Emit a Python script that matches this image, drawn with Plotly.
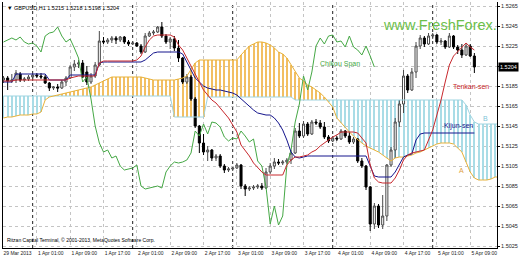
import plotly.graph_objects as go

# ---------------- data ----------------
symbol_title = "\u25bc GBPUSD,H1 1.5215 1.5218 1.5198 1.5204"
copyright_text = "Ritzan Capital Terminal, \u00a9 2001-2013, MetaQuotes Software Corp."
watermark = "www.FreshForex."

# hourly bars, index 0 = 29 Mar 2013 17:00
time_labels = ["29 Mar 2013", "1 Apr 01:00", "1 Apr 09:00", "1 Apr 17:00", "2 Apr 01:00",
               "2 Apr 09:00", "2 Apr 17:00", "3 Apr 01:00", "3 Apr 09:00", "3 Apr 17:00",
               "4 Apr 01:00", "4 Apr 09:00", "4 Apr 17:00", "5 Apr 01:00", "5 Apr 09:00"]
label_bars = [0, 8, 16, 24, 32, 40, 48, 56, 64, 72, 80, 88, 96, 104, 112]
day_separator_bars = [7, 31, 55, 79, 103]

price_ticks = [1.5025, 1.5045, 1.5065, 1.5085, 1.5105, 1.5125, 1.5145,
               1.5165, 1.5185, 1.5205, 1.5225, 1.5245, 1.5265]
last_price = 1.5204

open_ = [1.5191, 1.5193, 1.5190, 1.5191, 1.5197, 1.5191, 1.5192, 1.5194, 1.5196, 1.5195,
         1.5194, 1.5188, 1.5183, 1.5184, 1.5183, 1.5189, 1.5193, 1.5204, 1.5207, 1.5208,
         1.5199, 1.5189, 1.5195, 1.5206, 1.5230, 1.5229, 1.5231, 1.5233, 1.5231, 1.5234,
         1.5229, 1.5227, 1.5228, 1.5225, 1.5219, 1.5235, 1.5238, 1.5239, 1.5244, 1.5235,
         1.5229, 1.5232, 1.5223, 1.5213, 1.5189, 1.5194, 1.5172, 1.5145, 1.5128, 1.5119,
         1.5121, 1.5113, 1.5115, 1.5105, 1.5101, 1.5102, 1.5103, 1.5106, 1.5085, 1.5082,
         1.5083, 1.5084, 1.5085, 1.5083, 1.5099, 1.5105, 1.5109, 1.5108, 1.5109, 1.5111,
         1.5118, 1.5140, 1.5135, 1.5147, 1.5137, 1.5149, 1.5148, 1.5144, 1.5134, 1.5130,
         1.5133, 1.5132, 1.5140, 1.5135, 1.5129, 1.5132, 1.5110, 1.5105, 1.5084, 1.5047,
         1.5065, 1.5046, 1.5055, 1.5106, 1.5121, 1.5149, 1.5167, 1.5195, 1.5181, 1.5199,
         1.5225, 1.5233, 1.5227, 1.5235, 1.5236, 1.5229, 1.5230, 1.5224, 1.5235, 1.5224,
         1.5221, 1.5216, 1.5225, 1.5215]
high = [1.5195, 1.5195, 1.5197, 1.5201, 1.5199, 1.5194, 1.5196, 1.5197, 1.5198, 1.5198,
        1.5196, 1.5189, 1.5185, 1.5187, 1.5191, 1.5195, 1.5206, 1.5211, 1.5211, 1.5211,
        1.5205, 1.5198, 1.5209, 1.5240, 1.5234, 1.5233, 1.5235, 1.5235, 1.5235, 1.5235,
        1.5231, 1.5230, 1.5229, 1.5227, 1.5238, 1.5240, 1.5241, 1.5245, 1.5249, 1.5237,
        1.5234, 1.5235, 1.5231, 1.5214, 1.5197, 1.5196, 1.5174, 1.5146, 1.5137, 1.5125,
        1.5122, 1.5117, 1.5117, 1.5107, 1.5104, 1.5104, 1.5108, 1.5107, 1.5087, 1.5085,
        1.5086, 1.5087, 1.5088, 1.5103, 1.5108, 1.5113, 1.5112, 1.5111, 1.5113, 1.5121,
        1.5143, 1.5148, 1.5150, 1.5149, 1.5151, 1.5152, 1.5151, 1.5149, 1.5136, 1.5135,
        1.5135, 1.5142, 1.5141, 1.5139, 1.5134, 1.5133, 1.5113, 1.5106, 1.5085, 1.5068,
        1.5067, 1.5076, 1.5107, 1.5124, 1.5153, 1.5171, 1.5201, 1.5197, 1.5203, 1.5229,
        1.5236, 1.5235, 1.5238, 1.5238, 1.5237, 1.5233, 1.5231, 1.5238, 1.5236, 1.5226,
        1.5227, 1.5228, 1.5227, 1.5218]
low = [1.5188, 1.5181, 1.5188, 1.5188, 1.5189, 1.5189, 1.5190, 1.5190, 1.5193, 1.5192,
       1.5187, 1.5180, 1.5181, 1.5179, 1.5182, 1.5185, 1.5192, 1.5200, 1.5203, 1.5193,
       1.5186, 1.5187, 1.5193, 1.5205, 1.5227, 1.5227, 1.5228, 1.5227, 1.5229, 1.5227,
       1.5225, 1.5226, 1.5224, 1.5217, 1.5218, 1.5234, 1.5236, 1.5238, 1.5233, 1.5227,
       1.5222, 1.5220, 1.5209, 1.5187, 1.5187, 1.5170, 1.5143, 1.5118, 1.5116, 1.5110,
       1.5110, 1.5110, 1.5103, 1.5098, 1.5099, 1.5100, 1.5102, 1.5082, 1.5075, 1.5080,
       1.5081, 1.5082, 1.5081, 1.5082, 1.5097, 1.5102, 1.5106, 1.5106, 1.5107, 1.5107,
       1.5117, 1.5133, 1.5133, 1.5135, 1.5136, 1.5146, 1.5142, 1.5132, 1.5128, 1.5129,
       1.5130, 1.5131, 1.5133, 1.5127, 1.5127, 1.5108, 1.5103, 1.5081, 1.5040, 1.5042,
       1.5043, 1.5042, 1.5050, 1.5104, 1.5113, 1.5144, 1.5158, 1.5178, 1.5180, 1.5193,
       1.5222, 1.5224, 1.5226, 1.5232, 1.5227, 1.5226, 1.5222, 1.5223, 1.5222, 1.5217,
       1.5213, 1.5215, 1.5214, 1.5198]
close = [1.5193, 1.5190, 1.5191, 1.5198, 1.5191, 1.5192, 1.5194, 1.5196, 1.5195, 1.5194,
         1.5188, 1.5183, 1.5184, 1.5183, 1.5189, 1.5193, 1.5204, 1.5207, 1.5208, 1.5194,
         1.5189, 1.5195, 1.5206, 1.5230, 1.5229, 1.5231, 1.5233, 1.5231, 1.5234, 1.5229,
         1.5227, 1.5228, 1.5225, 1.5219, 1.5235, 1.5238, 1.5239, 1.5244, 1.5235, 1.5229,
         1.5232, 1.5223, 1.5213, 1.5189, 1.5194, 1.5172, 1.5145, 1.5128, 1.5119, 1.5121,
         1.5113, 1.5115, 1.5105, 1.5101, 1.5102, 1.5103, 1.5106, 1.5085, 1.5082, 1.5083,
         1.5084, 1.5085, 1.5083, 1.5099, 1.5105, 1.5109, 1.5108, 1.5109, 1.5111, 1.5118,
         1.5140, 1.5135, 1.5147, 1.5137, 1.5149, 1.5148, 1.5144, 1.5134, 1.5130, 1.5133,
         1.5132, 1.5140, 1.5135, 1.5129, 1.5132, 1.5110, 1.5105, 1.5084, 1.5047, 1.5065,
         1.5046, 1.5055, 1.5106, 1.5121, 1.5149, 1.5167, 1.5195, 1.5181, 1.5199, 1.5225,
         1.5233, 1.5227, 1.5235, 1.5236, 1.5229, 1.5230, 1.5224, 1.5235, 1.5224, 1.5221,
         1.5216, 1.5225, 1.5215, 1.5204]

tenkan_sen = [1.5190, 1.5190, 1.5190, 1.5191, 1.5191, 1.5191, 1.5191, 1.5191, 1.5191, 1.5191,
              1.5191, 1.5191, 1.5191, 1.5191, 1.5191, 1.5191, 1.5193, 1.5194, 1.5195, 1.5195,
              1.5195, 1.5195, 1.5195, 1.5208, 1.5210, 1.5210, 1.5210, 1.5210, 1.5210, 1.5210,
              1.5210, 1.5210, 1.5211, 1.5215, 1.5224, 1.5231, 1.5235, 1.5236, 1.5236, 1.5236,
              1.5236, 1.5234, 1.5226, 1.5221, 1.5213, 1.5205, 1.5196, 1.5188, 1.5181, 1.5176,
              1.5171, 1.5168, 1.5163, 1.5158, 1.5153, 1.5146, 1.5139, 1.5126, 1.5121, 1.5115,
              1.5108, 1.5103, 1.5099, 1.5096, 1.5096, 1.5096, 1.5096, 1.5096, 1.5106, 1.5111,
              1.5114, 1.5114, 1.5115, 1.5116, 1.5119, 1.5121, 1.5125, 1.5128, 1.5131, 1.5134,
              1.5136, 1.5139, 1.5139, 1.5139, 1.5139, 1.5138, 1.5133, 1.5128, 1.5106, 1.5093,
              1.5089, 1.5088, 1.5088, 1.5088, 1.5093, 1.5101, 1.5111, 1.5116, 1.5118, 1.5119,
              1.5120, 1.5121, 1.5131, 1.5141, 1.5156, 1.5171, 1.5189, 1.5206, 1.5215, 1.5219,
              1.5224, 1.5228, 1.5224, 1.5221]
kijun_sen = [1.5189, 1.5189, 1.5189, 1.5197, 1.5197, 1.5197, 1.5197, 1.5197, 1.5197, 1.5197,
             1.5197, 1.5191, 1.5191, 1.5191, 1.5191, 1.5191, 1.5196, 1.5196, 1.5196, 1.5196,
             1.5196, 1.5196, 1.5196, 1.5208, 1.5209, 1.5209, 1.5209, 1.5209, 1.5209, 1.5209,
             1.5209, 1.5209, 1.5209, 1.5209, 1.5211, 1.5215, 1.5218, 1.5219, 1.5219, 1.5219,
             1.5219, 1.5219, 1.5219, 1.5217, 1.5209, 1.5201, 1.5193, 1.5189, 1.5185, 1.5183,
             1.5182, 1.5181, 1.5181, 1.5180, 1.5179, 1.5178, 1.5176, 1.5172, 1.5169, 1.5165,
             1.5161, 1.5158, 1.5157, 1.5156, 1.5156, 1.5153, 1.5148, 1.5141, 1.5131, 1.5119,
             1.5114, 1.5113, 1.5114, 1.5115, 1.5115, 1.5115, 1.5115, 1.5115, 1.5115, 1.5115,
             1.5115, 1.5115, 1.5115, 1.5115, 1.5115, 1.5115, 1.5115, 1.5115, 1.5105, 1.5095,
             1.5094, 1.5094, 1.5094, 1.5094, 1.5099, 1.5106, 1.5114, 1.5116, 1.5117, 1.5131,
             1.5137, 1.5138, 1.5138, 1.5138, 1.5138, 1.5138, 1.5138, 1.5138, 1.5138, 1.5138,
             1.5138, 1.5138, 1.5138, 1.5138]
# cloud spans run 6 bars past the last candle (to the chart's right edge)
senkou_span_a = [1.5153, 1.5154, 1.5154, 1.5155, 1.5156, 1.5156, 1.5156, 1.5157, 1.5157, 1.5159,
                 1.5171, 1.5174, 1.5175, 1.5176, 1.5177, 1.5178, 1.5179, 1.5180, 1.5181, 1.5182,
                 1.5183, 1.5184, 1.5186, 1.5188, 1.5190, 1.5192, 1.5194, 1.5194, 1.5194, 1.5194,
                 1.5194, 1.5194, 1.5194, 1.5194, 1.5193, 1.5192, 1.5191, 1.5191, 1.5191, 1.5191,
                 1.5191, 1.5191, 1.5192, 1.5193, 1.5195, 1.5201, 1.5208, 1.5211, 1.5211, 1.5211,
                 1.5211, 1.5211, 1.5211, 1.5211, 1.5211, 1.5211, 1.5211, 1.5216, 1.5221, 1.5225,
                 1.5227, 1.5229, 1.5229, 1.5228, 1.5226, 1.5223, 1.5219, 1.5217, 1.5213, 1.5206,
                 1.5199, 1.5193, 1.5190, 1.5186, 1.5184, 1.5181, 1.5178, 1.5174, 1.5169, 1.5164,
                 1.5153, 1.5148, 1.5143, 1.5139, 1.5135, 1.5131, 1.5128, 1.5125, 1.5123, 1.5121,
                 1.5119, 1.5116, 1.5113, 1.5110, 1.5113, 1.5114, 1.5114, 1.5115, 1.5116, 1.5118,
                 1.5119, 1.5121, 1.5123, 1.5125, 1.5127, 1.5128, 1.5128, 1.5128, 1.5127, 1.5123,
                 1.5119, 1.5109, 1.5099, 1.5093, 1.5091, 1.5091, 1.5091, 1.5092, 1.5094, 1.5094]
senkou_span_b = [1.5175] * 41 + [1.5154] * 8 + [1.5174] * 21 + [1.5171] * 41 + \
                [1.5166, 1.5156, 1.5149, 1.5147, 1.5147, 1.5147, 1.5147, 1.5147, 1.5147]
# chikou span: closes plotted back on the chart
chikou_span = [1.5229, 1.5231, 1.5233, 1.5231, 1.5234, 1.5229, 1.5227, 1.5228, 1.5225, 1.5219,
               1.5235, 1.5238, 1.5239, 1.5244, 1.5235, 1.5229, 1.5232, 1.5223, 1.5213, 1.5189,
               1.5194, 1.5172, 1.5145, 1.5128, 1.5119, 1.5121, 1.5113, 1.5115, 1.5105, 1.5101,
               1.5102, 1.5103, 1.5106, 1.5085, 1.5082, 1.5083, 1.5084, 1.5085, 1.5083, 1.5099,
               1.5105, 1.5109, 1.5108, 1.5109, 1.5111, 1.5118, 1.5140, 1.5135, 1.5147, 1.5137,
               1.5149, 1.5148, 1.5144, 1.5134, 1.5130, 1.5133, 1.5132, 1.5140, 1.5135, 1.5129,
               1.5132, 1.5110, 1.5105, 1.5084, 1.5047, 1.5065, 1.5046, 1.5055, 1.5106, 1.5121,
               1.5149, 1.5167, 1.5195, 1.5181, 1.5199, 1.5225, 1.5233, 1.5227, 1.5235, 1.5236,
               1.5229, 1.5230, 1.5224, 1.5235, 1.5224, 1.5221, 1.5216, 1.5225, 1.5215, 1.5204]

# ---------------- styling ----------------
C_TENKAN = "#c8282d"
C_KIJUN = "#14148c"
C_CHIKOU = "#45a845"
C_A_LINE = "#e8b23a"
C_A_HATCH = "#f2bf62"
C_B_LINE = "#9fd4e0"
C_B_HATCH = "#a9dce6"
C_GRID = "#c4c4c4"
AXIS_FONT = "Liberation Sans"

bars = list(range(len(close)))
cloud_bars = list(range(len(senkou_span_a)))
chikou_bars = list(range(len(chikou_span)))

cloud_base = [min(a, b) for a, b in zip(senkou_span_a, senkou_span_b)]
cloud_height = [abs(a - b) for a, b in zip(senkou_span_a, senkou_span_b)]
cloud_color = [C_A_HATCH if a > b else C_B_HATCH for a, b in zip(senkou_span_a, senkou_span_b)]

fig = go.Figure()

fig.add_trace(go.Bar(x=cloud_bars, y=cloud_height, base=cloud_base, width=0.25,
                     marker=dict(color=cloud_color, line=dict(width=0)), hoverinfo="skip"))

fig.add_trace(go.Candlestick(
    x=bars, open=open_, high=high, low=low, close=close,
    increasing=dict(line=dict(color="#4a4a4a", width=1), fillcolor="white"),
    decreasing=dict(line=dict(color="black", width=1), fillcolor="black"),
    whiskerwidth=0))

fig.add_trace(go.Scatter(x=cloud_bars, y=senkou_span_b, mode="lines",
                         line=dict(color=C_B_LINE, width=1)))
fig.add_trace(go.Scatter(x=cloud_bars, y=senkou_span_a, mode="lines",
                         line=dict(color=C_A_LINE, width=1)))
fig.add_trace(go.Scatter(x=chikou_bars, y=chikou_span, mode="lines",
                         line=dict(color=C_CHIKOU, width=1)))
fig.add_trace(go.Scatter(x=bars, y=kijun_sen, mode="lines",
                         line=dict(color=C_KIJUN, width=1)))
fig.add_trace(go.Scatter(x=bars, y=tenkan_sen, mode="lines",
                         line=dict(color=C_TENKAN, width=1)))

for s in day_separator_bars:
    fig.add_shape(type="line", xref="x", yref="paper", x0=s, x1=s, y0=0, y1=1,
                  line=dict(color="#202020", width=1, dash="dot"), layer="below")

fig.update_layout(
    width=520, height=260, margin=dict(l=3, r=23, t=2, b=12),
    paper_bgcolor="white", plot_bgcolor="white", showlegend=False,
    barmode="overlay", bargap=0,
)
fig.update_xaxes(
    range=[-0.12, 118.43], tickmode="array", tickvals=label_bars, ticktext=time_labels,
    tickangle=0, tickfont=dict(family=AXIS_FONT, size=5, color="#222"), ticklabelshift=14,
    ticks="", showgrid=True, gridcolor=C_GRID, griddash="dot", gridwidth=1,
    showline=True, linecolor="black", linewidth=1, zeroline=False,
    rangeslider=dict(visible=False), fixedrange=True,
)
fig.update_yaxes(
    range=[1.5023, 1.5269], side="right", tickmode="array", tickvals=price_ticks,
    ticktext=["%.4f" % p for p in price_ticks], tickfont=dict(family=AXIS_FONT, size=5.5, color="#222"),
    ticks="outside", ticklen=2, tickcolor="black", showgrid=True, gridcolor=C_GRID,
    griddash="dot", gridwidth=1, showline=True, linecolor="black", linewidth=1, mirror=True,
    zeroline=False, fixedrange=True,
)

ann = [
    dict(text=symbol_title, xref="paper", yref="paper", x=0, y=1, xanchor="left", yanchor="top",
         xshift=2, yshift=-1, showarrow=False, font=dict(family=AXIS_FONT, size=5.5, color="black")),
    dict(text=copyright_text, xref="paper", yref="paper", x=0, y=0, xanchor="left", yanchor="bottom",
         xshift=2, yshift=3, showarrow=False, font=dict(family=AXIS_FONT, size=5, color="black")),
    dict(text=watermark, xref="x", yref="y", x=90.6, y=1.5246, xanchor="left", yanchor="middle",
         showarrow=False, font=dict(family="Liberation Sans", size=14.5, color="#6cc04a")),
    dict(text="Chikou Span", xref="x", yref="y", x=80.8, y=1.5207, showarrow=False,
         font=dict(family="Liberation Sans", size=7, color=C_CHIKOU)),
    dict(text="Tenkan-sen", xref="x", yref="y", x=112.2, y=1.5185, showarrow=False,
         font=dict(family="Liberation Sans", size=7, color=C_TENKAN)),
    dict(text="Kijun-sen", xref="x", yref="y", x=109.3, y=1.5145, showarrow=False,
         font=dict(family="Liberation Sans", size=7, color=C_KIJUN)),
    dict(text="B", xref="x", yref="y", x=115.6, y=1.5153, showarrow=False,
         font=dict(family="Liberation Sans", size=7, color="#7fc4d8")),
    dict(text="A", xref="x", yref="y", x=109.8, y=1.5101, showarrow=False,
         font=dict(family="Liberation Sans", size=7, color="#e0a040")),
    dict(text="%.4f" % last_price, xref="paper", yref="y", x=1, y=last_price, xanchor="left",
         yanchor="middle", xshift=1, showarrow=False, bgcolor="black", borderpad=1,
         font=dict(family=AXIS_FONT, size=5.5, color="white")),
]
fig.update_layout(annotations=ann)

fig.write_html("out.html")
